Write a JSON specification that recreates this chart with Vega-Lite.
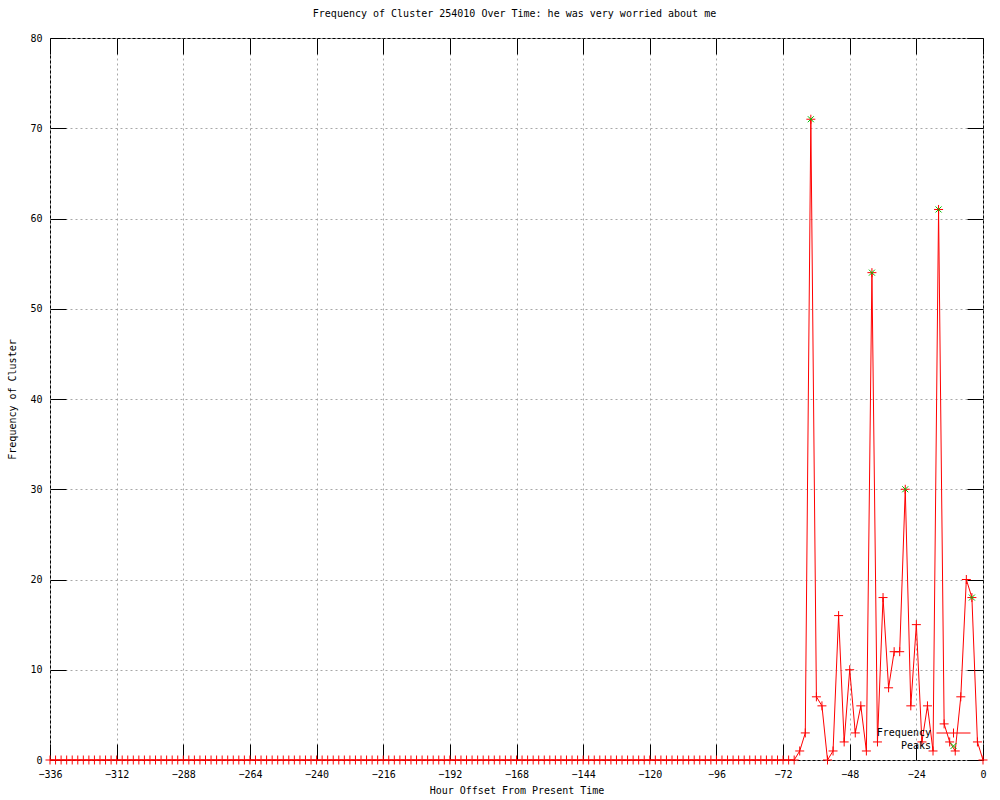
{
  "$schema": "https://vega.github.io/schema/vega-lite/v6.json",
  "width": 933,
  "height": 722,
  "autosize": {"type": "none"},
  "padding": {"left": 50, "top": 38, "right": 17, "bottom": 40},
  "background": "white",
  "title": {"text": "Frequency of Cluster 254010 Over Time: he was very worried about me", "font": "DejaVu Sans Mono", "fontSize": 10, "fontWeight": "normal", "color": "black", "offset": 14, "anchor": "middle", "dx": -2},
  "config": {
    "view": {"stroke": "black", "strokeWidth": 1},
    "axis": {"labelFont": "DejaVu Sans Mono", "labelFontSize": 10, "labelColor": "black", "titleFont": "DejaVu Sans Mono", "titleFontSize": 10, "titleFontWeight": "normal", "titleColor": "black", "domain": false, "tickColor": "black", "tickWidth": 1, "gridColor": "#a8a8a8", "gridDash": [2, 3], "gridWidth": 1, "gridOpacity": 1},
    "legend": {"orient": "none", "title": null, "padding": 0, "labelAlign": "right", "labelOffset": -27.5, "labelFont": "DejaVu Sans Mono", "labelFontSize": 10, "labelColor": "black", "symbolSize": 81, "symbolStrokeWidth": 1, "symbolOpacity": 1, "symbolFillColor": "transparent", "rowPadding": -1, "zindex": 2}
  },
  "datasets": {
    "freq": [
      {"h": -336, "f": 0}, {"h": -334, "f": 0}, {"h": -332, "f": 0}, {"h": -330, "f": 0}, {"h": -328, "f": 0}, {"h": -326, "f": 0}, {"h": -324, "f": 0}, {"h": -322, "f": 0}, {"h": -320, "f": 0}, {"h": -318, "f": 0}, {"h": -316, "f": 0}, {"h": -314, "f": 0},
      {"h": -312, "f": 0}, {"h": -310, "f": 0}, {"h": -308, "f": 0}, {"h": -306, "f": 0}, {"h": -304, "f": 0}, {"h": -302, "f": 0}, {"h": -300, "f": 0}, {"h": -298, "f": 0}, {"h": -296, "f": 0}, {"h": -294, "f": 0}, {"h": -292, "f": 0}, {"h": -290, "f": 0},
      {"h": -288, "f": 0}, {"h": -286, "f": 0}, {"h": -284, "f": 0}, {"h": -282, "f": 0}, {"h": -280, "f": 0}, {"h": -278, "f": 0}, {"h": -276, "f": 0}, {"h": -274, "f": 0}, {"h": -272, "f": 0}, {"h": -270, "f": 0}, {"h": -268, "f": 0}, {"h": -266, "f": 0},
      {"h": -264, "f": 0}, {"h": -262, "f": 0}, {"h": -260, "f": 0}, {"h": -258, "f": 0}, {"h": -256, "f": 0}, {"h": -254, "f": 0}, {"h": -252, "f": 0}, {"h": -250, "f": 0}, {"h": -248, "f": 0}, {"h": -246, "f": 0}, {"h": -244, "f": 0}, {"h": -242, "f": 0},
      {"h": -240, "f": 0}, {"h": -238, "f": 0}, {"h": -236, "f": 0}, {"h": -234, "f": 0}, {"h": -232, "f": 0}, {"h": -230, "f": 0}, {"h": -228, "f": 0}, {"h": -226, "f": 0}, {"h": -224, "f": 0}, {"h": -222, "f": 0}, {"h": -220, "f": 0}, {"h": -218, "f": 0},
      {"h": -216, "f": 0}, {"h": -214, "f": 0}, {"h": -212, "f": 0}, {"h": -210, "f": 0}, {"h": -208, "f": 0}, {"h": -206, "f": 0}, {"h": -204, "f": 0}, {"h": -202, "f": 0}, {"h": -200, "f": 0}, {"h": -198, "f": 0}, {"h": -196, "f": 0}, {"h": -194, "f": 0},
      {"h": -192, "f": 0}, {"h": -190, "f": 0}, {"h": -188, "f": 0}, {"h": -186, "f": 0}, {"h": -184, "f": 0}, {"h": -182, "f": 0}, {"h": -180, "f": 0}, {"h": -178, "f": 0}, {"h": -176, "f": 0}, {"h": -174, "f": 0}, {"h": -172, "f": 0}, {"h": -170, "f": 0},
      {"h": -168, "f": 0}, {"h": -166, "f": 0}, {"h": -164, "f": 0}, {"h": -162, "f": 0}, {"h": -160, "f": 0}, {"h": -158, "f": 0}, {"h": -156, "f": 0}, {"h": -154, "f": 0}, {"h": -152, "f": 0}, {"h": -150, "f": 0}, {"h": -148, "f": 0}, {"h": -146, "f": 0},
      {"h": -144, "f": 0}, {"h": -142, "f": 0}, {"h": -140, "f": 0}, {"h": -138, "f": 0}, {"h": -136, "f": 0}, {"h": -134, "f": 0}, {"h": -132, "f": 0}, {"h": -130, "f": 0}, {"h": -128, "f": 0}, {"h": -126, "f": 0}, {"h": -124, "f": 0}, {"h": -122, "f": 0},
      {"h": -120, "f": 0}, {"h": -118, "f": 0}, {"h": -116, "f": 0}, {"h": -114, "f": 0}, {"h": -112, "f": 0}, {"h": -110, "f": 0}, {"h": -108, "f": 0}, {"h": -106, "f": 0}, {"h": -104, "f": 0}, {"h": -102, "f": 0}, {"h": -100, "f": 0}, {"h": -98, "f": 0},
      {"h": -96, "f": 0}, {"h": -94, "f": 0}, {"h": -92, "f": 0}, {"h": -90, "f": 0}, {"h": -88, "f": 0}, {"h": -86, "f": 0}, {"h": -84, "f": 0}, {"h": -82, "f": 0}, {"h": -80, "f": 0}, {"h": -78, "f": 0}, {"h": -76, "f": 0}, {"h": -74, "f": 0},
      {"h": -72, "f": 0}, {"h": -70, "f": 0}, {"h": -68, "f": 0}, {"h": -66, "f": 1}, {"h": -64, "f": 3}, {"h": -62, "f": 71}, {"h": -60, "f": 7}, {"h": -58, "f": 6}, {"h": -56, "f": 0}, {"h": -54, "f": 1}, {"h": -52, "f": 16}, {"h": -50, "f": 2},
      {"h": -48, "f": 10}, {"h": -46, "f": 3}, {"h": -44, "f": 6}, {"h": -42, "f": 1}, {"h": -40, "f": 54}, {"h": -38, "f": 2}, {"h": -36, "f": 18}, {"h": -34, "f": 8}, {"h": -32, "f": 12}, {"h": -30, "f": 12}, {"h": -28, "f": 30}, {"h": -26, "f": 6},
      {"h": -24, "f": 15}, {"h": -22, "f": 2}, {"h": -20, "f": 6}, {"h": -18, "f": 1}, {"h": -16, "f": 61}, {"h": -14, "f": 4}, {"h": -12, "f": 2}, {"h": -10, "f": 1}, {"h": -8, "f": 7}, {"h": -6, "f": 20}, {"h": -4, "f": 18}, {"h": -2, "f": 2},
      {"h": 0, "f": 0}
    ],
    "peaks": [
      {"h": -62, "p": 71}, {"h": -40, "p": 54}, {"h": -28, "p": 30}, {"h": -16, "p": 61}, {"h": -4, "p": 18}
    ]
  },
  "layer": [
    {
      "data": {"name": "freq"},
      "mark": {"type": "line", "color": "#ff0000", "strokeWidth": 1},
      "encoding": {
        "x": {"field": "h", "type": "quantitative", "scale": {"domain": [-336, 0], "nice": false, "zero": false},
          "axis": {"orient": "bottom", "values": [-336, -312, -288, -264, -240, -216, -192, -168, -144, -120, -96, -72, -48, -24, 0], "grid": true, "tickSize": -16, "labelPadding": 25, "labelFlush": false, "labelOverlap": false, "title": "Hour Offset From Present Time", "titlePadding": 6}},
        "y": {"field": "f", "type": "quantitative", "scale": {"domain": [0, 80], "nice": false},
          "axis": {"orient": "left", "values": [0, 10, 20, 30, 40, 50, 60, 70, 80], "grid": true, "tickSize": -16, "labelPadding": 24, "labelFlush": false, "labelOverlap": false, "title": "Frequency of Cluster", "titlePadding": 12}}
      }
    },
    {
      "data": {"name": "freq"},
      "mark": {"type": "point", "shape": "M-1,0L1,0M0,-1L0,1", "size": 81, "filled": false, "strokeWidth": 1, "opacity": 1},
      "encoding": {
        "x": {"field": "h", "type": "quantitative", "axis": {"orient": "top", "values": [-336, -312, -288, -264, -240, -216, -192, -168, -144, -120, -96, -72, -48, -24, 0], "grid": false, "labels": false, "tickSize": -16, "title": null}},
        "y": {"field": "f", "type": "quantitative", "axis": {"orient": "right", "values": [0, 10, 20, 30, 40, 50, 60, 70, 80], "grid": false, "labels": false, "tickSize": -16, "title": null}},
        "color": {"datum": "Frequency", "type": "nominal",
          "scale": {"domain": ["Frequency"], "range": ["#ff0000"]},
          "legend": {"legendX": 898.5, "legendY": 690, "symbolType": "M-3.78,0L3.78,0M0,-1L0,1"}}
      }
    },
    {
      "data": {"name": "peaks"},
      "mark": {"type": "point", "shape": "M-1,-1L1,1M-1,1L1,-1", "size": 36, "filled": false, "strokeWidth": 1, "opacity": 1},
      "encoding": {
        "x": {"field": "h", "type": "quantitative", "axis": null},
        "y": {"field": "p", "type": "quantitative", "axis": null},
        "stroke": {"datum": "Peaks", "type": "nominal",
          "scale": {"domain": ["Peaks"], "range": ["#00c000"]},
          "legend": {"legendX": 898.5, "legendY": 703, "symbolType": "M-0.67,-0.67L0.67,0.67M-0.67,0.67L0.67,-0.67"}}
      }
    }
  ]
}
